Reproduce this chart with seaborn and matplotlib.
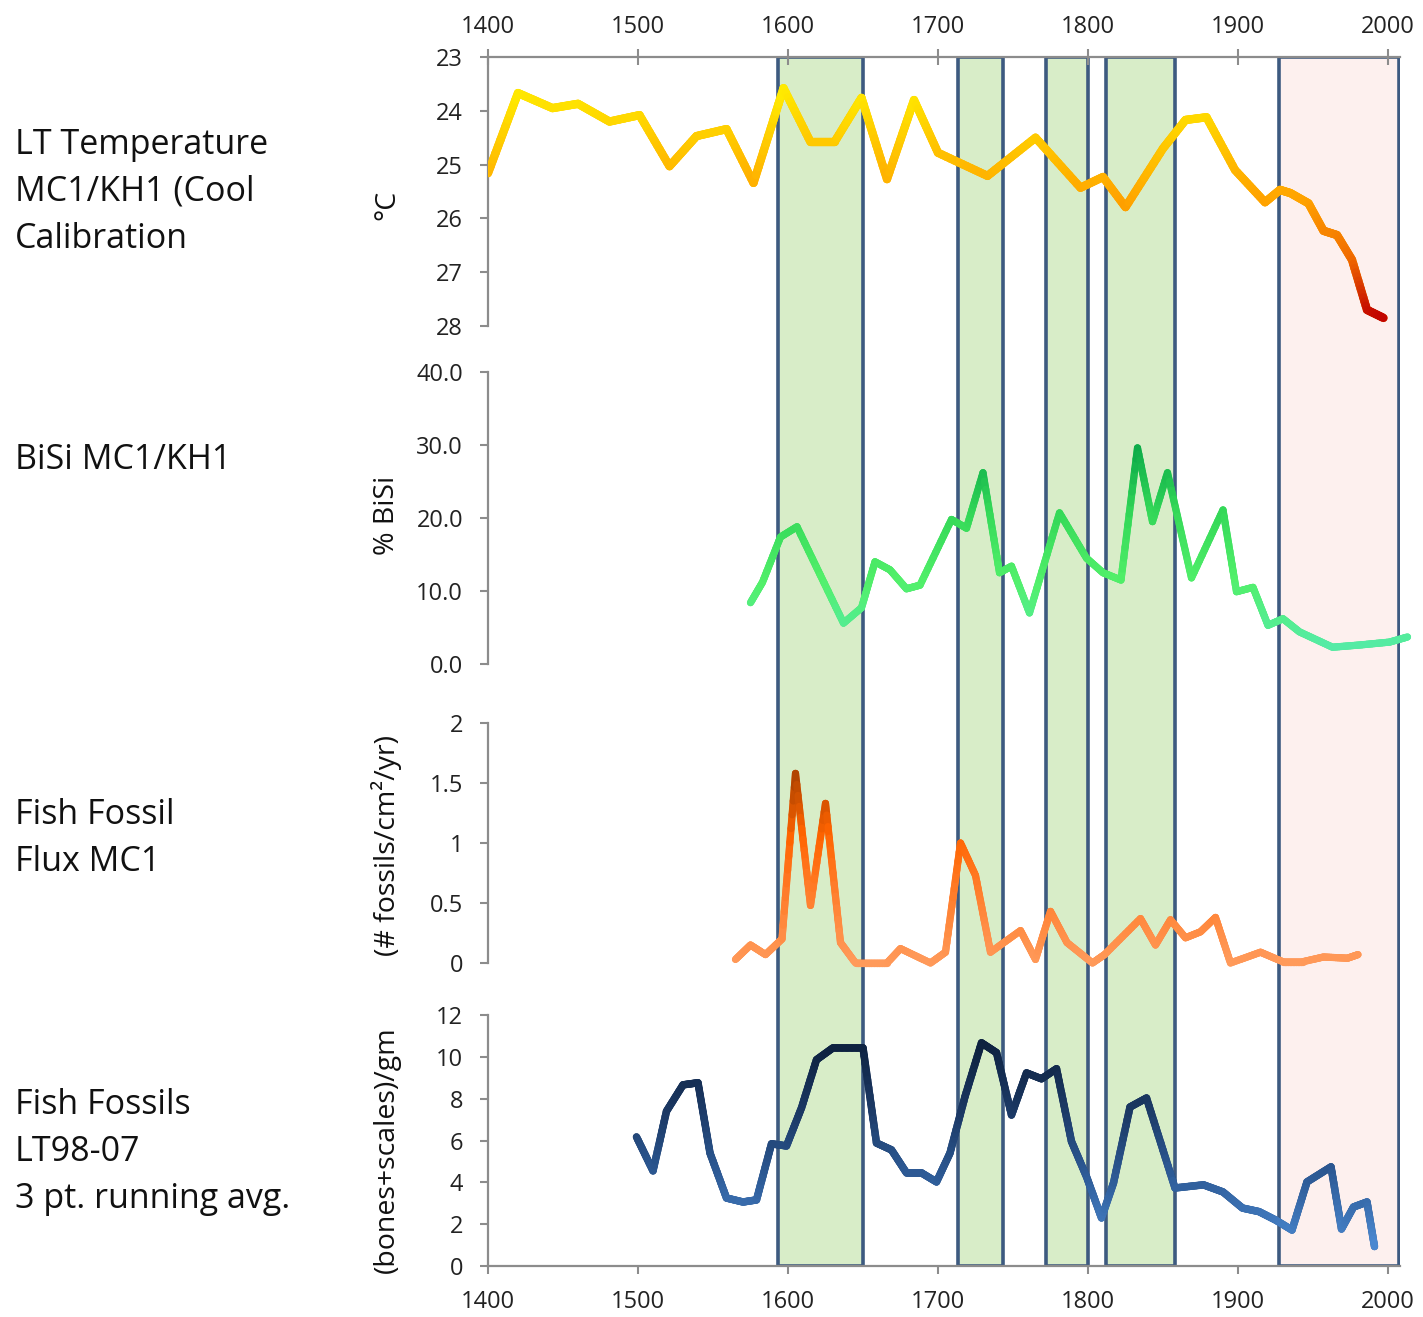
import numpy as np
import pandas as pd
import matplotlib
matplotlib.use("Agg")
import matplotlib.pyplot as plt
from matplotlib.collections import LineCollection
import seaborn as sns

# ---------------- data ----------------
temp_year = [1400, 1420, 1443, 1460, 1481, 1501, 1521, 1539, 1559, 1577, 1597, 1615, 1631, 1649,
             1666, 1684, 1700, 1733, 1765, 1795, 1810, 1825, 1850, 1865, 1879, 1898, 1918, 1928,
             1935, 1947, 1957, 1966, 1976, 1986, 1997]
temp_val = [25.16, 23.67, 23.95, 23.87, 24.2, 24.08, 25.03, 24.47, 24.34, 25.34, 23.58, 24.58, 24.58, 23.76,
            25.27, 23.8, 24.78, 25.21, 24.5, 25.43, 25.23, 25.79, 24.7, 24.17, 24.12, 25.1, 25.7, 25.47,
            25.53, 25.72, 26.23, 26.31, 26.77, 27.7, 27.85]

bisi_year = [1575, 1583, 1595, 1606, 1637, 1649, 1658, 1668, 1679, 1688, 1709, 1719, 1730, 1741, 1749,
             1761, 1781, 1799, 1810, 1822, 1833, 1843, 1853, 1869, 1890, 1899, 1910, 1920, 1930, 1941,
             1963, 1981, 2001, 2013]
bisi_val = [8.4, 11.2, 17.4, 18.8, 5.6, 7.7, 14.0, 12.9, 10.3, 10.8, 19.8, 18.6, 26.2, 12.5, 13.4,
            7.0, 20.7, 14.5, 12.5, 11.5, 29.6, 19.5, 26.2, 11.8, 21.1, 9.9, 10.5, 5.3, 6.2, 4.4,
            2.3, 2.6, 3.0, 3.7]

flux_year = [1565, 1575, 1585, 1596, 1605, 1615, 1625, 1635, 1645, 1666, 1675, 1695, 1705, 1715, 1725,
             1735, 1755, 1765, 1775, 1786, 1803, 1811, 1835, 1845, 1855, 1865, 1875, 1885, 1895, 1915,
             1930, 1943, 1957, 1973, 1980]
flux_val = [0.03, 0.15, 0.07, 0.2, 1.58, 0.48, 1.33, 0.17, 0.0, 0.0, 0.12, 0.0, 0.09, 1.0, 0.73,
            0.09, 0.27, 0.03, 0.43, 0.17, 0.0, 0.07, 0.37, 0.15, 0.36, 0.21, 0.26, 0.38, 0.0, 0.09,
            0.01, 0.01, 0.05, 0.04, 0.07]

fish_year = [1499, 1510, 1519, 1530, 1540, 1548, 1559, 1570, 1579, 1589, 1599, 1609, 1619, 1630, 1650,
             1659, 1669, 1679, 1689, 1699, 1708, 1718, 1729, 1739, 1749, 1759, 1769, 1779, 1789, 1799,
             1809, 1817, 1828, 1839, 1858, 1877, 1890, 1903, 1914, 1925, 1936, 1946, 1962, 1969, 1977,
             1986, 1991]
fish_val = [6.17, 4.55, 7.4, 8.66, 8.76, 5.4, 3.25, 3.06, 3.16, 5.84, 5.74, 7.56, 9.86, 10.43, 10.43,
            5.88, 5.55, 4.45, 4.45, 4.02, 5.4, 8.1, 10.67, 10.2, 7.22, 9.23, 8.95, 9.43, 5.95, 4.27,
            2.3, 3.97, 7.6, 8.03, 3.73, 3.88, 3.54, 2.77, 2.6, 2.2, 1.72, 4.02, 4.74, 1.77, 2.82,
            3.06, 0.93]

green_bands = [(1593, 1650), (1713, 1743), (1772, 1800), (1812, 1858)]
pink_band = (1927, 2007)

x_ticks = [1400, 1500, 1600, 1700, 1800, 1900, 2000]

left_titles = [
    (["LT Temperature", "MC1/KH1 (Cool", "Calibration"], [145, 192, 239]),
    (["BiSi MC1/KH1"], [460]),
    (["Fish Fossil", "Flux MC1"], [815, 862]),
    (["Fish Fossils", "LT98-07", "3 pt. running avg."], [1105, 1152, 1199]),
]
y_labels = [("°C", 205), ("% BiSi", 515), ("(# fossils/cm²/yr)", 845), ("(bones+scales)/gm", 1150)]

# ---------------- style ----------------
sns.set_theme(style="white")
FONT = ["Open Sans", "DejaVu Sans"]
plt.rcParams["font.family"] = FONT

W, H = 1423, 1317
fig = plt.figure(figsize=(W / 100, H / 100), dpi=100)

X0, X1 = 1400, 2008
px_left, px_right = 488, 488 + (X1 - X0) * 1.5
TICK_FS = 17


def rect(top_px, bot_px):
    return [px_left / W, 1 - bot_px / H, (px_right - px_left) / W, (bot_px - top_px) / H]


# background band axes
axb = fig.add_axes(rect(57, 1266))
axb.set_xlim(X0, X1)
axb.set_ylim(0, 1)
axb.axis("off")
edge = "#3d5a80"
for a, b in green_bands:
    axb.axvspan(a, b, facecolor="#d8edc8", edgecolor=edge, linewidth=2.6)
axb.axvspan(pink_band[0], pink_band[1], facecolor="#fdf0ee", edgecolor=edge, linewidth=2.6)

spine_c = "#8c8c8c"


def style_axis(ax, show_top=False, show_bottom=False):
    ax.set_facecolor("none")
    ax.patch.set_alpha(0)
    ax.spines["right"].set_visible(False)
    ax.spines["top"].set_visible(show_top)
    ax.spines["bottom"].set_visible(show_bottom)
    for s in ["left", "top", "bottom"]:
        ax.spines[s].set_color(spine_c)
        ax.spines[s].set_linewidth(1.6)
    ax.tick_params(axis="y", direction="out", length=6, width=1.5, color=spine_c,
                   labelsize=TICK_FS, labelcolor="#222222", pad=12, left=True)
    ax.set_xlim(X0, X1)
    ax.set_xlabel("")
    ax.set_ylabel("")


def gradient_line(ax, xs, ys, cmap, vmin, vmax, lw, clip=True):
    segs, cols = [], []
    for i in range(len(xs) - 1):
        tx = np.linspace(xs[i], xs[i + 1], 13)
        ty = np.linspace(ys[i], ys[i + 1], 13)
        for j in range(12):
            segs.append([(tx[j], ty[j]), (tx[j + 1], ty[j + 1])])
            cols.append(cmap((0.5 * (ty[j] + ty[j + 1]) - vmin) / (vmax - vmin)))
    lc = LineCollection(segs, colors=cols, linewidths=lw, capstyle="round", joinstyle="round",
                        zorder=3)
    lc.set_clip_on(clip)
    ax.add_collection(lc)


# ---- panel 1: temperature ----
ax1 = fig.add_axes(rect(57, 326))
df1 = pd.DataFrame({"year": temp_year, "v": temp_val})
cm1 = sns.blend_palette(["#FFEF00", "#FFC800", "#FFA200", "#F06A00", "#C00000"], as_cmap=True)
sns.lineplot(data=df1, x="year", y="v", ax=ax1, color="#FFC000", linewidth=5.8,
             estimator=None, sort=False)
gradient_line(ax1, temp_year, temp_val, cm1, 23.5, 27.9, 6.0)
style_axis(ax1, show_top=True)
ax1.set_ylim(28, 23)
ax1.set_yticks([23, 24, 25, 26, 27, 28])
ax1.set_yticklabels(["23", "24", "25", "26", "27", "28"])
ax1.xaxis.tick_top()
ax1.set_xticks(x_ticks)
ax1.set_xticklabels([str(t) for t in x_ticks])
ax1.tick_params(axis="x", direction="inout", length=12, width=1.5, color=spine_c,
                labelsize=TICK_FS, labelcolor="#222222", top=True, bottom=False, pad=7)

# ---- panel 2: BiSi ----
ax2 = fig.add_axes(rect(372, 664))
df2 = pd.DataFrame({"year": bisi_year, "v": bisi_val})
cm2 = sns.blend_palette(["#55EBA8", "#52F06A", "#34D858", "#0AA848"], as_cmap=True)
sns.lineplot(data=df2, x="year", y="v", ax=ax2, color="#40E060", linewidth=5.0,
             estimator=None, sort=False)
ax2.get_lines()[0].set_clip_on(False)
gradient_line(ax2, bisi_year, bisi_val, cm2, 2, 30, 5.2, clip=False)
style_axis(ax2)
ax2.set_ylim(0, 40)
ax2.set_yticks([0, 10, 20, 30, 40])
ax2.set_yticklabels(["0.0", "10.0", "20.0", "30.0", "40.0"])
ax2.set_xticks([])

# ---- panel 3: fish fossil flux ----
ax3 = fig.add_axes(rect(723, 963))
df3 = pd.DataFrame({"year": flux_year, "v": flux_val})
cm3 = sns.blend_palette(["#FF9A5A", "#FF8030", "#FF6400", "#A84000"], as_cmap=True)
sns.lineplot(data=df3, x="year", y="v", ax=ax3, color="#FF8030", linewidth=5.0,
             estimator=None, sort=False)
gradient_line(ax3, flux_year, flux_val, cm3, 0, 1.6, 5.2, clip=False)
style_axis(ax3)
ax3.set_ylim(0, 2)
ax3.set_yticks([0, 0.5, 1, 1.5, 2])
ax3.set_yticklabels(["0", "0.5", "1", "1.5", "2"])
ax3.set_xticks([])

# ---- panel 4: fish fossils ----
ax4 = fig.add_axes(rect(1015, 1266))
df4 = pd.DataFrame({"year": fish_year, "v": fish_val})
cm4 = sns.blend_palette(["#4A88D0", "#2E5C98", "#1C3A66", "#0E2240"], as_cmap=True)
sns.lineplot(data=df4, x="year", y="v", ax=ax4, color="#1C3A66", linewidth=5.2,
             estimator=None, sort=False)
gradient_line(ax4, fish_year, fish_val, cm4, 1, 10.5, 5.4)
style_axis(ax4, show_bottom=True)
ax4.set_ylim(0, 12)
ax4.set_yticks([0, 2, 4, 6, 8, 10, 12])
ax4.set_yticklabels([str(t) for t in [0, 2, 4, 6, 8, 10, 12]])
ax4.set_xticks(x_ticks)
ax4.set_xticklabels([str(t) for t in x_ticks])
ax4.tick_params(axis="x", direction="out", length=6, width=1.5, color=spine_c,
                labelsize=TICK_FS, labelcolor="#222222", bottom=True, pad=11)

# ---- texts ----
for lines, ys in left_titles:
    for t, y in zip(lines, ys):
        fig.text(15 / W, 1 - y / H, t, ha="left", va="center", fontsize=24.5, color="#111111")

for t, y in y_labels:
    fig.text(387 / W, 1 - y / H, t, ha="center", va="center", rotation=90, fontsize=20.5,
             color="#111111")

fig.savefig("out.png", dpi=100)
